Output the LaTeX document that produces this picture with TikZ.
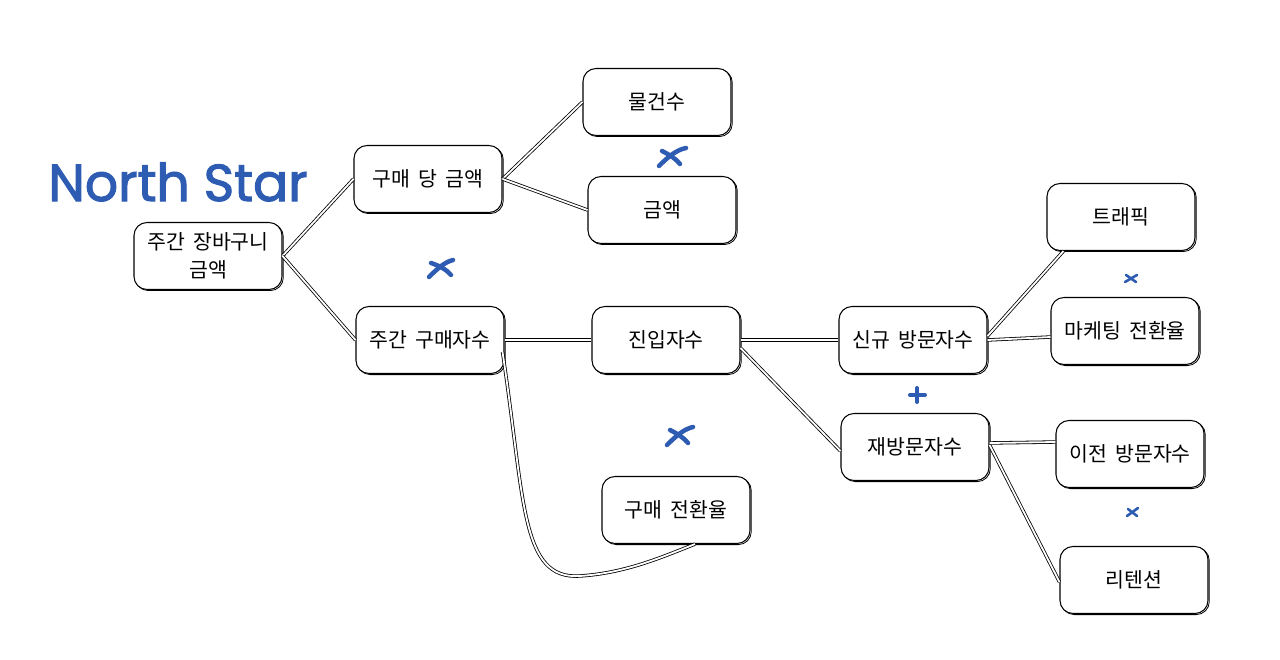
\documentclass[tikz,border=0pt]{standalone}
\usepackage{fontspec}
\newfontfamily\krfont[WordSpace=1.8]{Noto Sans CJK KR}
\newfontfamily\titlefont[FakeBold=2]{Poppins}
\definecolor{sblue}{RGB}{45,92,178}
\tikzset{
  box/.style={draw, fill=white, line width=1.05pt, rounded corners=13pt,
    minimum width=148pt, minimum height=67pt, align=center, inner sep=0pt,
    font=\krfont\fontsize{20.5}{28}\selectfont,
    preaction={draw, line width=0.8pt, transform canvas={shift={(1.3pt,-1.1pt)}}}},
  conn/.style={line width=0.8pt, double distance=1.8pt},
  bluex/.style={sblue, line width=4.5pt, line cap=round},
  smallx/.style={sblue, line width=2.6pt, line cap=round},
}
\begin{document}
\begin{tikzpicture}[x=1pt,y=-1pt]
\useasboundingbox (0,0) rectangle (1280,660);
% title
\node[sblue, font=\titlefont\fontsize{52}{54}\selectfont] (title) at (178,182) {North Star};
% boxes
\node[box] (root) at (208,256) {주간 장바구니\\금액};
\node[box] (perbuy) at (428,179) {구매 당 금액};
\node[box] (buyers) at (430,340) {주간 구매자수};
\node[box] (items) at (657,102) {물건수};
\node[box] (amount) at (662,210) {금액};
\node[box] (entry) at (666,340) {진입자수};
\node[box] (conv) at (676,510) {구매 전환율};
\node[box] (newv) at (913,340) {신규 방문자수};
\node[box] (revis) at (915,447) {재방문자수};
\node[box] (traffic) at (1121,217) {트래픽};
\node[box] (mkt) at (1125,331) {마케팅 전환율};
\node[box] (prev) at (1130,454) {이전 방문자수};
\node[box] (ret) at (1134,580) {리텐션};
% connectors
\draw[conn] (root.east) -- (perbuy.west);
\draw[conn] (root.east) -- (buyers.west);
\draw[conn] (perbuy.east) -- (items.west);
\draw[conn] (perbuy.east) -- (amount.west);
\draw[conn] (buyers.east) -- (entry.west);
\draw[conn] ([xshift=-2pt,yshift=-12pt]buyers.east) .. controls (525,500) and (520,580) .. (580,576)
   .. controls (625,573) and (660,558) .. ([xshift=19pt]conv.south);
\draw[conn] (entry.east) -- (newv.west);
\draw[conn] ([yshift=-8pt]entry.east) -- ([yshift=-4pt]revis.west);
\draw[conn] ([yshift=4pt]newv.east) -- ([xshift=17pt]traffic.south west);
\draw[conn] (newv.east) -- ([yshift=-6pt]mkt.west);
\draw[conn] ([yshift=4pt]revis.east) -- ([yshift=12pt]prev.west);
\draw[conn] ([yshift=2pt]revis.east) -- ([yshift=-2pt]ret.west);
% operators
\draw[bluex] (429,277) .. controls (438,268) and (445,262) .. (453,260);
\draw[bluex] (431,263) .. controls (440,266) and (447,270) .. (451,275);
\draw[bluex] (659,166) .. controls (668,157) and (676,150) .. (686,148);
\draw[bluex] (662,151) .. controls (670,155) and (676,159) .. (680,164);
\draw[bluex] (667,445) .. controls (676,436) and (684,429) .. (693,427);
\draw[bluex] (670,430) .. controls (678,434) and (684,438) .. (688,443);
\draw[smallx] (1125,282) -- (1137,275);
\draw[smallx] (1126,275) -- (1136,282);
\draw[smallx] (1127,516) -- (1138,508);
\draw[smallx] (1128,509) -- (1137,516);
\draw[sblue, line width=4pt, line cap=round] (910,395) -- (925,395);
\draw[sblue, line width=4pt, line cap=round] (917,388) -- (917,402);
\end{tikzpicture}
\end{document}
